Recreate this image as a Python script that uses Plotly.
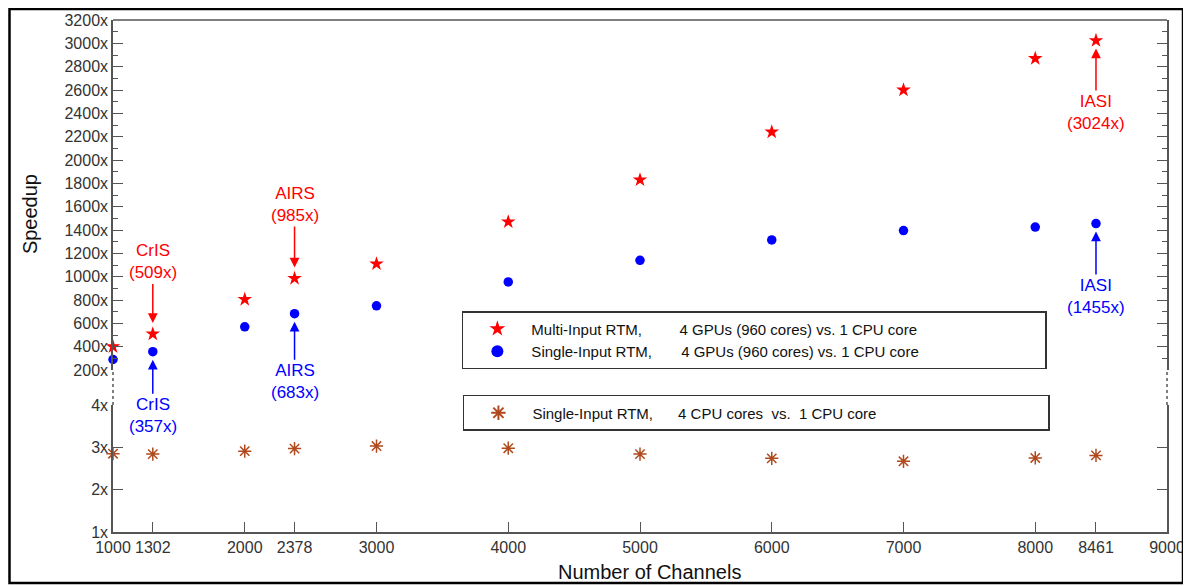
import plotly.graph_objects as go

channels = [1000, 1302, 2000, 2378, 3000, 4000, 5000, 6000, 7000, 8000, 8461]
multi_gpu = [400, 509, 805, 985, 1110, 1470, 1830, 2240, 2600, 2870, 3024]
single_gpu = [290, 357, 570, 683, 750, 955, 1140, 1315, 1395, 1425, 1455]
single_cpu = [2.85, 2.84, 2.91, 2.97, 3.03, 2.98, 2.84, 2.74, 2.67, 2.75, 2.81]

x_ticks = [1000, 1302, 2000, 2378, 3000, 4000, 5000, 6000, 7000, 8000, 8461, 9000]
upper_ticks = list(range(200, 3201, 200))
lower_ticks = [1, 2, 3, 4]

FONT = "Liberation Sans, Arial, sans-serif"
NB = "\u00a0"

name_multi = "Multi-Input RTM," + NB * 9 + "4 GPUs (960 cores) vs. 1 CPU core" + NB * 29
name_single = "Single-Input RTM," + NB * 7 + "4 GPUs (960 cores) vs. 1 CPU core" + NB * 29
name_cpu = "Single-Input RTM," + NB * 6 + "4 CPU cores" + NB * 2 + "vs." + NB * 2 + "1 CPU core" + NB * 40

fig = go.Figure()
fig.add_trace(go.Scatter(x=channels, y=multi_gpu, mode="markers", name=name_multi,
                         marker=dict(symbol="star", size=11, color="#ff0000"),
                         cliponaxis=False, xaxis="x", yaxis="y", legend="legend"))
fig.add_trace(go.Scatter(x=channels, y=single_gpu, mode="markers", name=name_single,
                         marker=dict(symbol="circle", size=9.5, color="#0000ff"),
                         cliponaxis=False, xaxis="x", yaxis="y", legend="legend"))
fig.add_trace(go.Scatter(x=channels, y=single_cpu, mode="markers", name=name_cpu,
                         marker=dict(symbol="asterisk-open", size=11, color="#b04a1e",
                                     line=dict(color="#b04a1e", width=1.5)),
                         cliponaxis=False, xaxis="x", yaxis="y2", legend="legend2"))

axis_line = "#555555"
tickfont = dict(family=FONT, size=16, color="#333333")

fig.update_layout(
    template="none",
    width=1183, height=578,
    margin=dict(l=105, r=24, t=12, b=54, pad=0, autoexpand=False),
    paper_bgcolor="white", plot_bgcolor="white",
    font=dict(family=FONT, color="#222222"),
    xaxis=dict(range=[1000, 9000], anchor="y2", domain=[0, 1], automargin=False,
               tickvals=x_ticks, ticktext=[str(v) for v in x_ticks],
               ticks="inside", ticklen=10, tickcolor=axis_line,
               showline=True, linecolor=axis_line, linewidth=1.5,
               showgrid=False, zeroline=False, tickfont=tickfont),
    yaxis=dict(range=[200, 3200], domain=[0.3164, 1], anchor="x", automargin=False,
               tickvals=upper_ticks, ticktext=[f"{v}x" for v in upper_ticks],
               ticks="inside", ticklen=10, tickcolor=axis_line,
               minor=dict(tickmode="linear", tick0=0, dtick=100, ticks="inside",
                          ticklen=5, tickcolor=axis_line),
               showline=True, linecolor=axis_line, linewidth=1.5, mirror="ticks",
               showgrid=False, zeroline=False, tickfont=tickfont),
    yaxis2=dict(range=[1, 4], domain=[0, 0.248], anchor="x", automargin=False,
                tickvals=lower_ticks, ticktext=[f"{v}x" for v in lower_ticks],
                ticks="inside", ticklen=10, tickcolor=axis_line,
                showline=True, linecolor=axis_line, linewidth=1.5, mirror="ticks",
                showgrid=False, zeroline=False, tickfont=tickfont),
    legend=dict(x=0.331, y=0.4316, xanchor="left", yanchor="top",
                bordercolor="#333333", borderwidth=1.5, bgcolor="white",
                font=dict(family=FONT, size=15, color="#111111"),
                tracegroupgap=0, itemsizing="constant", itemwidth=58),
    legend2=dict(x=0.332, y=0.2676, xanchor="left", yanchor="top",
                 bordercolor="#333333", borderwidth=1.5, bgcolor="white",
                 font=dict(family=FONT, size=15, color="#111111"),
                 itemsizing="constant", itemwidth=58),
    showlegend=True,
)

shapes = [
    dict(type="line", xref="paper", yref="paper", x0=0, x1=1, y0=1, y1=1,
         line=dict(color=axis_line, width=1.5)),
    dict(type="line", xref="paper", yref="paper", x0=0, x1=0, y0=0.248, y1=0.3164,
         line=dict(color=axis_line, width=1.5, dash="dot")),
    dict(type="line", xref="paper", yref="paper", x0=1, x1=1, y0=0.248, y1=0.3164,
         line=dict(color=axis_line, width=1.5, dash="dot")),
    dict(type="rect", xref="paper", yref="paper", x0=-0.0982, x1=1.0152, y0=-0.0996, y1=1.0215,
         line=dict(color="black", width=2.5)),
]
fig.update_layout(shapes=shapes)

ann_font = 17
def note(x, y, text, ay, color, standoff):
    return dict(x=x, y=y, xref="x", yref="y", text=text, ax=0, ay=ay,
                font=dict(family=FONT, size=ann_font, color=color), arrowcolor=color,
                showarrow=True, arrowhead=2, arrowsize=1.3, arrowwidth=1.5, standoff=standoff)

annotations = [
    note(1302, multi_gpu[1], "CrIS<br>(509x)", -72, "#ff0000", 11),
    note(2378, multi_gpu[3], "AIRS<br>(985x)", -74, "#ff0000", 11),
    note(8461, multi_gpu[10], "IASI<br>(3024x)", 72, "#ff0000", 8),
    note(1302, single_gpu[1], "CrIS<br>(357x)", 64, "#0000ff", 8),
    note(2378, single_gpu[3], "AIRS<br>(683x)", 68, "#0000ff", 8),
    note(8461, single_gpu[10], "IASI<br>(1455x)", 73, "#0000ff", 8),
    dict(x=-0.0787, y=0.621, xref="paper", yref="paper", text="Speedup", textangle=-90,
         xanchor="center", yanchor="middle",
         showarrow=False, font=dict(family=FONT, size=20, color="#111111")),
    dict(x=0.509, y=-0.078, xref="paper", yref="paper", text="Number of Channels",
         xanchor="center", yanchor="middle",
         showarrow=False, font=dict(family=FONT, size=20, color="#111111")),
]
fig.update_layout(annotations=annotations)

fig.write_html("out.html")
